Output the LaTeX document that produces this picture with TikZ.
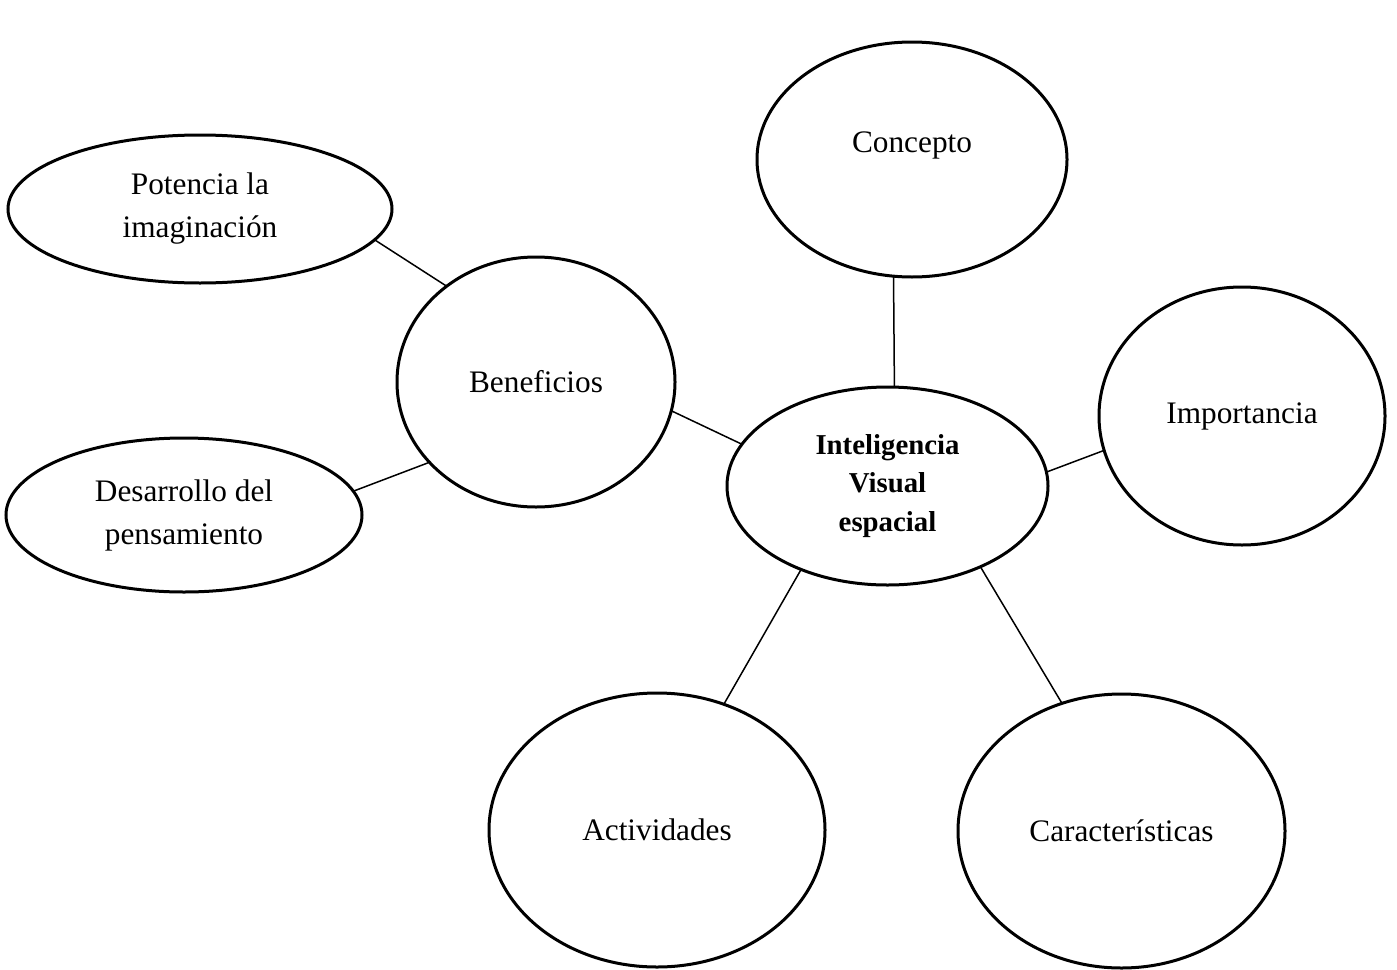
\documentclass[tikz,border=0pt]{standalone}
\usepackage{fontspec}
\setmainfont{Liberation Serif}
\usetikzlibrary{shapes.geometric}
\tikzset{
  bubble/.style={ellipse, draw, line width=3pt, inner sep=0pt, outer sep=0pt, align=center,
    font=\fontsize{31.3pt}{43pt}\selectfont},
  hub/.style={bubble, font=\bfseries\fontsize{28.8pt}{38.5pt}\selectfont},
  link/.style={line width=1.5pt},
}
\begin{document}
\begin{tikzpicture}[x=1pt,y=-1pt]
\useasboundingbox[fill=white] (0,0) rectangle (1397,969);

\node[hub, minimum width=321pt, minimum height=198pt] (centro) at (887.5,486) {Inteligencia\\Visual\\espacial};
\node[bubble, minimum width=310pt, minimum height=235pt,
  label={[font=\fontsize{31.3pt}{43pt}\selectfont, yshift=14pt]center:Concepto}] (concepto) at (912,159.5) {};
\node[bubble, minimum width=278pt, minimum height=250pt] (beneficios) at (536,382) {Beneficios};
\node[bubble, minimum width=384pt, minimum height=148pt] (potencia) at (200,209) {Potencia la\\imaginación};
\node[bubble, minimum width=356pt, minimum height=154pt] (desarrollo) at (184,515) {Desarrollo del\\pensamiento};
\node[bubble, minimum width=286pt, minimum height=258pt] (importancia) at (1242,416) {Importancia};
\node[bubble, minimum width=336pt, minimum height=274pt] (actividades) at (657,830) {Actividades};
\node[bubble, minimum width=327pt, minimum height=274pt] (caracteristicas) at (1121.5,831) {Características};

\draw[link] (concepto.-99.1) -- (centro.86.9);
\draw[link] (potencia.-10.7) -- (beneficios.133.8);
\draw[link] (beneficios.-12.8) -- (centro.164.8);
\draw[link] (desarrollo.8) -- (beneficios.-143.7);
\draw[link] (centro.5.8) -- (importancia.194.1);
\draw[link] (centro.-136.5) -- (actividades.62.1);
\draw[link] (centro.-41.1) -- (caracteristicas.115.6);
\end{tikzpicture}
\end{document}
